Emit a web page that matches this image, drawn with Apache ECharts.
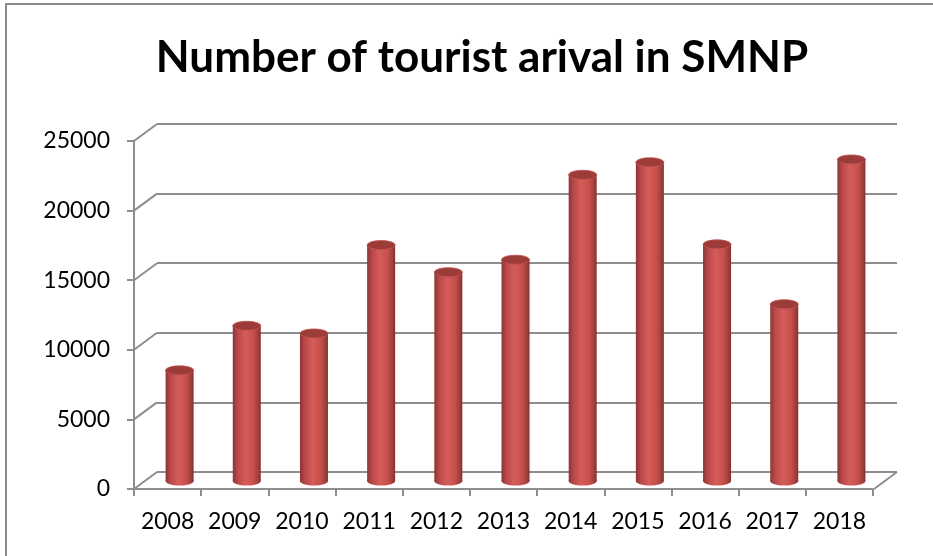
<!DOCTYPE html>
<html>
<head>
<meta charset="utf-8">
<script src="https://cdn.jsdelivr.net/npm/echarts@6/dist/echarts.min.js"></script>
<style>
html,body{margin:0;padding:0;background:#fff;}
#chart{width:933px;height:556px;}
</style>
</head>
<body>
<div id="chart"></div>
<script>
// ---- data ----
const titleText = 'Number of tourist arival in SMNP';
const years = ['2008','2009','2010','2011','2012','2013','2014','2015','2016','2017','2018'];
const arrivals = [7950, 11150, 10600, 16950, 15000, 15900, 22000, 22900, 17000, 12700, 23100];
const yTicks = [0, 5000, 10000, 15000, 20000, 25000];

// ---- style constants ----
const FONT = 'Lato';
const GRID_COLOR = '#8e8e8e';
const DEPTH_DX = 23, DEPTH_DY = 17;   // 3D depth offset between front and back planes
const BAR_DX = 12, BAR_DY = 8;        // bars sit at mid-depth

const chart = echarts.init(document.getElementById('chart'), null, {renderer: 'canvas'});

const bodyGrad = () => new echarts.graphic.LinearGradient(0, 0, 1, 0, [
  {offset: 0, color: '#8c3532'},
  {offset: 0.18, color: '#b9494a'},
  {offset: 0.45, color: '#d55c58'},
  {offset: 0.72, color: '#c9514d'},
  {offset: 0.92, color: '#9e3d3a'},
  {offset: 1, color: '#7f2f2c'}
]);

function renderBar(params, api) {
  const i = api.value(0), v = api.value(1);
  const base = api.coord([i, 0]);
  const top = api.coord([i, v]);
  const cx = base[0] + BAR_DX;
  const by = base[1] - BAR_DY;
  const ty = top[1] - BAR_DY;
  const rx = 14, ry = 4.5;
  return {
    type: 'group',
    children: [
      {type: 'ellipse', shape: {cx: cx, cy: by, rx: rx, ry: ry}, style: {fill: bodyGrad()}},
      {type: 'rect', shape: {x: cx - rx, y: ty, width: rx * 2, height: by - ty}, style: {fill: bodyGrad()}},
      {type: 'ellipse', shape: {cx: cx, cy: ty, rx: rx, ry: ry},
        style: {fill: '#9b3c39', stroke: '#c55450', lineWidth: 0.8}}
    ]
  };
}

function renderFrame(params, api) {
  const v = api.value(1);
  const p = api.coord([0, v]);
  const children = [{
    type: 'line',
    shape: {x1: p[0], y1: p[1], x2: p[0] - DEPTH_DX, y2: p[1] + DEPTH_DY},
    style: {stroke: GRID_COLOR, lineWidth: 2}
  }];
  if (v === 0) {
    const q = api.coord([1, 0]);
    children.push({
      type: 'line',
      shape: {x1: q[0], y1: q[1], x2: q[0] - DEPTH_DX, y2: q[1] + DEPTH_DY},
      style: {stroke: GRID_COLOR, lineWidth: 2}
    });
  }
  return {type: 'group', children: children};
}

const option = {
  animation: false,
  backgroundColor: '#fff',
  title: {
    text: titleText,
    left: 477, top: 31,
    textAlign: 'center',
    textStyle: {fontFamily: FONT, fontWeight: 'bold', fontSize: 44, color: '#000'}
  },
  graphic: [{
    type: 'rect', silent: true, z: 100,
    shape: {x: 6, y: 4, width: 1000, height: 1000},
    style: {fill: 'none', stroke: '#8a8a8a', lineWidth: 2}
  }],
  grid: [
    {left: 157, right: 36, top: 124, bottom: 84},
    {left: 134, right: 60, top: 141, bottom: 67}
  ],
  xAxis: [
    {gridIndex: 0, type: 'value', min: 0, max: 1, show: false},
    {
      gridIndex: 1, type: 'category', data: years,
      axisLine: {show: true, lineStyle: {color: GRID_COLOR, width: 2}},
      axisTick: {show: true, length: 7, lineStyle: {color: GRID_COLOR, width: 2}},
      axisLabel: {fontFamily: FONT, fontSize: 23, color: '#000', margin: 21, interval: 0},
      splitLine: {show: false}
    }
  ],
  yAxis: [
    {
      gridIndex: 0, type: 'value', min: 0, max: 25000, interval: 5000,
      axisLine: {show: false}, axisTick: {show: false}, axisLabel: {show: false},
      splitLine: {show: true, lineStyle: {color: GRID_COLOR, width: 2}}
    },
    {
      gridIndex: 1, type: 'value', min: 0, max: 25000, interval: 5000,
      axisLine: {show: true, lineStyle: {color: GRID_COLOR, width: 2}},
      axisTick: {show: true, length: 7, lineStyle: {color: GRID_COLOR, width: 2}},
      axisLabel: {fontFamily: FONT, fontSize: 23, color: '#000', margin: 24,
        formatter: v => String(v)},
      splitLine: {show: false}
    }
  ],
  series: [
    {
      type: 'custom', xAxisIndex: 0, yAxisIndex: 0,
      renderItem: renderFrame,
      data: yTicks.map(v => [0, v]),
      z: 1, silent: true
    },
    {
      type: 'custom', xAxisIndex: 1, yAxisIndex: 1,
      renderItem: renderBar,
      data: arrivals.map((v, i) => [i, v]),
      z: 5
    }
  ]
};
chart.setOption(option);
</script>
</body>
</html>
